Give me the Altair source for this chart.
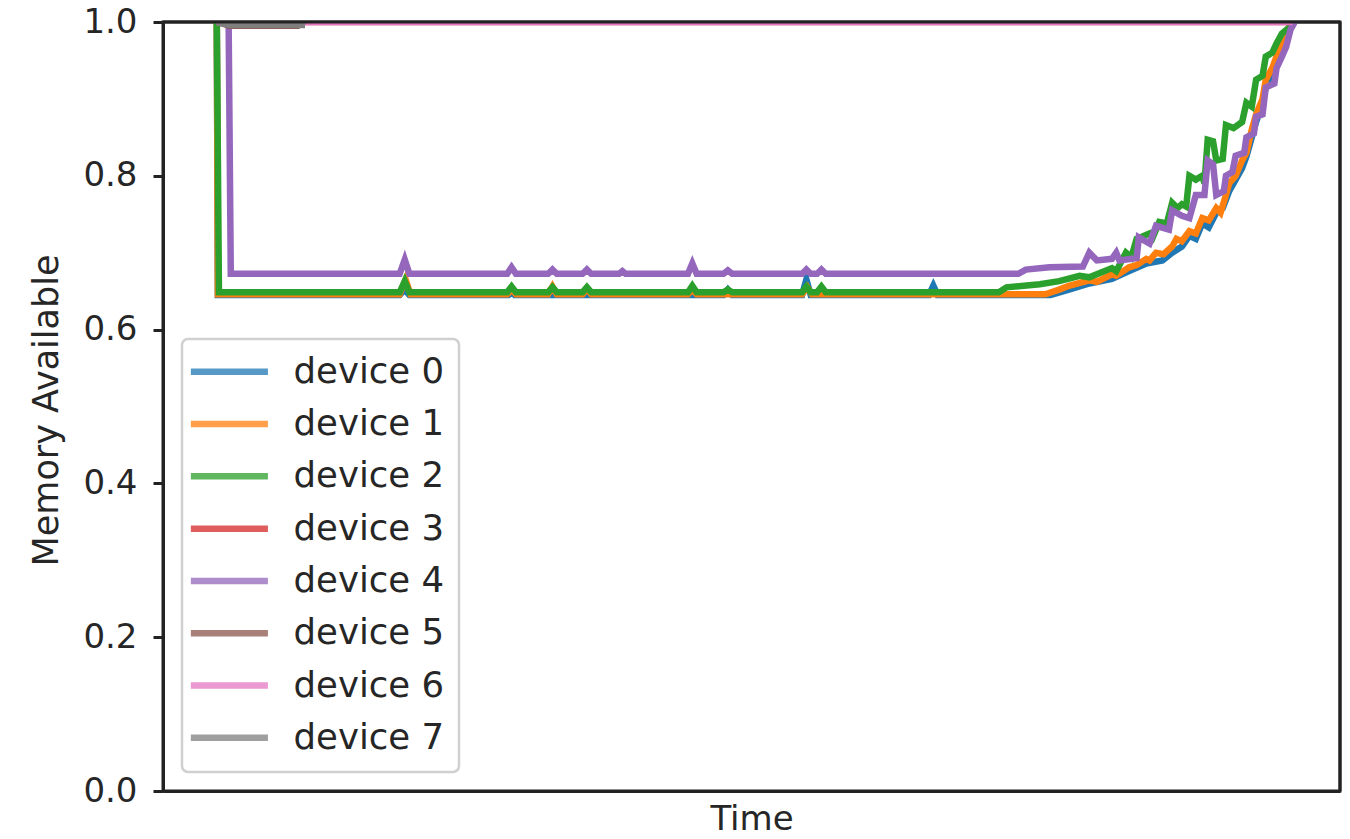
import altair as alt
import pandas as pd

FONT = "DejaVu Sans"
devices = ["device 0", "device 1", "device 2", "device 3",
           "device 4", "device 5", "device 6", "device 7"]
colors = ["#1f77b4", "#ff7f0e", "#2ca02c", "#d62728",
          "#9467bd", "#8c564b", "#e377c2", "#7f7f7f"]
y_ticks = [0.0, 0.2, 0.4, 0.6, 0.8, 1.0]

# device 0
t0 = [0, 1, 170, 174.7, 179, 271, 274, 277, 471, 475, 479, 544, 548, 552, 662, 666, 670,
      775, 792, 811, 832, 848, 864, 879, 888, 897, 904, 910, 916, 922, 929, 935, 941, 947,
      953, 957, 962, 966, 972, 975, 981, 985, 990, 994, 1000]
v0 = [1.0, 0.645, 0.645, 0.652, 0.645, 0.645, 0.650, 0.645, 0.645, 0.652, 0.645, 0.645,
      0.665, 0.645, 0.645, 0.657, 0.645, 0.645, 0.652, 0.660, 0.666, 0.676, 0.686, 0.690,
      0.700, 0.708, 0.722, 0.718, 0.738, 0.733, 0.752, 0.758, 0.780, 0.795, 0.810, 0.825,
      0.850, 0.870, 0.895, 0.915, 0.935, 0.950, 0.965, 0.980, 1.0]
# device 1
t1 = [0, 1, 170, 175.5, 180, 270, 274, 278, 308, 312, 316, 340, 344, 348, 438, 442, 446,
      544, 549, 553, 770, 783, 792, 811, 818, 832, 836, 848, 855, 864, 867, 873, 880, 888,
      892, 897, 904, 910, 916, 922, 929, 933, 938, 941, 947, 953, 957, 962, 966, 972, 975,
      981, 985, 990, 994, 1000]
v1 = [1.0, 0.646, 0.646, 0.665, 0.646, 0.646, 0.652, 0.646, 0.646, 0.656, 0.646, 0.646,
      0.653, 0.646, 0.646, 0.652, 0.646, 0.646, 0.655, 0.646, 0.646, 0.652, 0.657, 0.664,
      0.662, 0.672, 0.670, 0.681, 0.684, 0.692, 0.690, 0.700, 0.698, 0.708, 0.718, 0.715,
      0.728, 0.725, 0.745, 0.742, 0.758, 0.752, 0.775, 0.790, 0.800, 0.820, 0.830, 0.860,
      0.880, 0.900, 0.925, 0.940, 0.955, 0.970, 0.985, 1.0]
# device 2
t2 = [0, 2, 170, 174.7, 179, 270, 274, 278, 308, 312, 316, 340, 344, 348, 438, 442, 446,
      471, 475, 479, 544, 548, 552, 558, 562, 566, 727, 734, 765, 783, 802, 811, 832, 836,
      845, 850, 855, 862, 867, 870, 876, 883, 888, 893, 897, 901, 904, 910, 916, 918, 921,
      926, 929, 935, 938, 945, 953, 957, 962, 966, 972, 975, 981, 985, 990, 996, 1000]
v2 = [1.0, 0.6486, 0.6486, 0.663, 0.6486, 0.6486, 0.656, 0.6486, 0.6486, 0.655, 0.6486,
      0.6486, 0.655, 0.6486, 0.6486, 0.657, 0.6486, 0.6486, 0.652, 0.6486, 0.6486, 0.656,
      0.6486, 0.6486, 0.656, 0.6486, 0.6486, 0.655, 0.659, 0.663, 0.670, 0.668, 0.680,
      0.676, 0.700, 0.694, 0.718, 0.722, 0.725, 0.720, 0.740, 0.738, 0.765, 0.758, 0.763,
      0.760, 0.800, 0.795, 0.800, 0.790, 0.847, 0.845, 0.820, 0.822, 0.866, 0.862, 0.870,
      0.895, 0.890, 0.925, 0.930, 0.955, 0.960, 0.972, 0.985, 0.992, 1.0]
# device 3
t3 = [0, 1000]
v3 = [1.0, 1.0]
# device 4
t4 = [0, 11, 13, 170, 174.7, 179, 270, 274, 278, 308, 312, 316, 340, 344, 348, 374, 377,
      380, 438, 442, 446, 471, 475, 479, 544, 548, 552, 558, 562, 566, 745, 752, 774, 805,
      811, 818, 832, 836, 839, 855, 857, 867, 873, 885, 888, 897, 904, 910, 918, 921, 926,
      929, 936, 938, 944, 947, 955, 957, 964, 966, 972, 975, 983, 985, 990, 994, 998, 1002]
v4 = [1.0, 1.0, 0.6726, 0.6726, 0.691, 0.6726, 0.6726, 0.681, 0.6726, 0.6726, 0.678,
      0.6726, 0.6726, 0.678, 0.6726, 0.6726, 0.676, 0.6726, 0.6726, 0.686, 0.6726, 0.6726,
      0.677, 0.6726, 0.6726, 0.678, 0.6726, 0.6726, 0.678, 0.6726, 0.6726, 0.678, 0.681,
      0.682, 0.700, 0.690, 0.692, 0.700, 0.690, 0.693, 0.720, 0.712, 0.735, 0.730, 0.755,
      0.748, 0.745, 0.775, 0.775, 0.820, 0.815, 0.775, 0.780, 0.800, 0.805, 0.826, 0.830,
      0.850, 0.855, 0.877, 0.880, 0.915, 0.920, 0.940, 0.955, 0.968, 0.990, 1.0]
# device 5
t5 = [0, 12, 77]
v5 = [1.0, 0.995, 0.995]
# device 6
t6 = [0, 1000]
v6 = [1.0, 1.0]
# device 7
t7 = [0, 12, 82]
v7 = [1.0, 0.996, 0.996]

times = [t0, t1, t2, t3, t4, t5, t6, t7]
values = [v0, v1, v2, v3, v4, v5, v6, v7]

rows = []
for name, ts, vs in zip(devices, times, values):
    for t, v in zip(ts, vs):
        rows.append({"device": name, "time": t, "memory": v})
df = pd.DataFrame(rows)

W, H = 1177, 769
SPINE = "#222222"
TXT = "#262626"

lines = alt.Chart(df).mark_line(strokeWidth=6.5, clip=True).encode(
    x=alt.X("time:Q",
            scale=alt.Scale(domain=[-50, 1044], nice=False, zero=False),
            axis=alt.Axis(title="Time", labels=False, ticks=False, grid=False,
                          domain=True, domainColor=SPINE, domainWidth=3,
                          titleFont=FONT, titleFontSize=34, titleFontWeight="normal",
                          titleColor=TXT, titlePadding=11, zindex=1)),
    y=alt.Y("memory:Q",
            scale=alt.Scale(domain=[0, 1], nice=False, zero=False),
            axis=alt.Axis(title="Memory Available", values=y_ticks, format=".1f",
                          grid=False, domain=True, domainColor=SPINE, domainWidth=3,
                          ticks=True, tickSize=10, tickWidth=3, tickColor=SPINE,
                          labelFont=FONT, labelFontSize=34, labelColor=TXT,
                          labelPadding=16,
                          titleFont=FONT, titleFontSize=35, titleFontWeight="normal",
                          titleColor=TXT, titleX=-106, titleY=388,
                          titleBaseline="alphabetic", titleAlign="center",
                          titleAngle=270, zindex=1)),
    color=alt.Color("device:N",
                    scale=alt.Scale(domain=devices, range=colors),
                    legend=alt.Legend(title=None, orient="none", legendX=19, legendY=317,
                                      symbolType="M-1.86,0H4.14", symbolSize=660,
                                      symbolStrokeWidth=6.5, symbolOpacity=0.75,
                                      labelFont=FONT, labelFontSize=35.5, labelColor=TXT,
                                      labelOffset=61, rowPadding=15.3, padding=15,
                                      strokeColor="#d0d0d0", fillColor="white",
                                      cornerRadius=6)),
)

top_spine = alt.Chart(alt.Data(values=[{}])).mark_rule(
    color=SPINE, strokeWidth=3).encode(y=alt.value(0))
right_spine = alt.Chart(alt.Data(values=[{}])).mark_rule(
    color=SPINE, strokeWidth=3).encode(x=alt.value(W))

chart = alt.layer(lines, top_spine, right_spine).properties(
    width=W, height=H,
    autosize=alt.AutoSizeParams(type="none"),
    padding={"left": 155, "top": 14, "right": 2, "bottom": 40},
).configure_view(stroke=SPINE, strokeWidth=3).configure_legend(strokeWidth=2.5)

chart.save("out.html", embed_options={"renderer": "svg", "actions": False})
